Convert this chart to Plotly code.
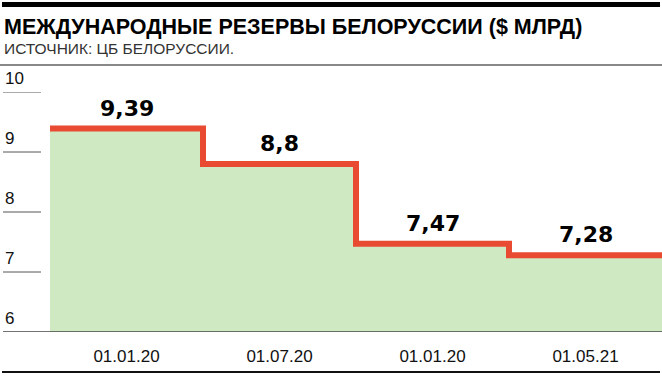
import plotly.graph_objects as go

# ---- data ----
dates = ["01.01.20", "01.07.20", "01.01.20", "01.05.21"]
values = [9.39, 8.8, 7.47, 7.28]
value_labels = ["9,39", "8,8", "7,47", "7,28"]
y_ticks = [6, 7, 8, 9, 10]
y_tick_labels = ["6", "7", "8", "9", "10"]

title = "МЕЖДУНАРОДНЫЕ РЕЗЕРВЫ БЕЛОРУССИИ ($ МЛРД)"
subtitle = "ИСТОЧНИК: ЦБ БЕЛОРУССИИ."

W, H = 662, 380
RED = "#E84A32"
GREEN = "#CFE9C3"

# step positions: step i spans [i, i+1]
xs = list(range(len(values) + 1))
ys = values + [values[-1]]

fig = go.Figure()
fig.add_trace(go.Scatter(
    x=xs, y=ys, mode="lines",
    line=dict(shape="hv", color=RED, width=6),
    fill="tozeroy", fillcolor=GREEN,
    hoverinfo="skip", showlegend=False,
))

annotations = []
# value labels
for i, (v, lab) in enumerate(zip(values, value_labels)):
    annotations.append(dict(
        x=i + 0.5, y=v, xref="x", yref="y", text=lab, showarrow=False,
        xanchor="center", yanchor="bottom", yshift=6,
        font=dict(family="DejaVu Sans", size=22, color="#000000", weight="bold"),
    ))
# y tick labels
for t, lab in zip(y_ticks, y_tick_labels):
    annotations.append(dict(
        x=3 / W, y=t, xref="paper", yref="y", text=lab, showarrow=False,
        xanchor="left", yanchor="bottom", yshift=2,
        font=dict(family="Liberation Sans", size=17, color="#111111"),
    ))
# title / subtitle
annotations.append(dict(
    x=2 / W, y=1, xref="paper", yref="paper", text="<b>" + title + "</b>",
    showarrow=False, xanchor="left", yanchor="top", yshift=92 - 13,
    font=dict(family="Liberation Sans", size=21.5, color="#000000"),
))
annotations.append(dict(
    x=2 / W, y=1, xref="paper", yref="paper", text=subtitle,
    showarrow=False, xanchor="left", yanchor="top", yshift=92 - 38,
    font=dict(family="Liberation Sans", size=15.5, color="#333333"),
))

shapes = []
# short tick lines
for t in y_ticks[1:]:
    shapes.append(dict(type="line", xref="paper", yref="y", x0=3 / W, x1=41 / W,
                       y0=t, y1=t, line=dict(color="#555555", width=1)))
# baseline axis
shapes.append(dict(type="line", xref="paper", yref="y", x0=3 / W, x1=1,
                   y0=y_ticks[0], y1=y_ticks[0], line=dict(color="#444444", width=1.5)))
# top black bar, grey separator, bottom black line (paper decorations)
shapes.append(dict(type="rect", xref="paper", yref="paper", x0=2 / W, x1=660 / W,
                   y0=1 + (92 - 2) / 240, y1=1 + (92 - 7) / 240,
                   fillcolor="#000000", line=dict(width=0)))
shapes.append(dict(type="line", xref="paper", yref="paper", x0=0, x1=1,
                   y0=1 + (92 - 65) / 240, y1=1 + (92 - 65) / 240,
                   line=dict(color="#888888", width=2)))
shapes.append(dict(type="line", xref="paper", yref="paper", x0=2 / W, x1=660 / W,
                   y0=-(372 - 332) / 240, y1=-(372 - 332) / 240,
                   line=dict(color="#111111", width=2)))

fig.update_layout(
    width=W, height=H,
    margin=dict(l=0, r=0, t=92, b=48, pad=0),
    paper_bgcolor="white", plot_bgcolor="white",
    xaxis=dict(range=[-50 / 153, len(values)], showgrid=False, zeroline=False,
               showline=False, tickmode="array",
               tickvals=[i + 0.5 for i in range(len(dates))], ticktext=dates,
               ticks="", ticklabelstandoff=12,
               tickfont=dict(family="Liberation Sans", size=17, color="#111111"),
               fixedrange=True),
    yaxis=dict(range=[6, 10], showgrid=False, zeroline=False, showline=False,
               showticklabels=False, ticks="", fixedrange=True),
    annotations=annotations, shapes=shapes,
    showlegend=False,
)

fig.write_html("out.html")
